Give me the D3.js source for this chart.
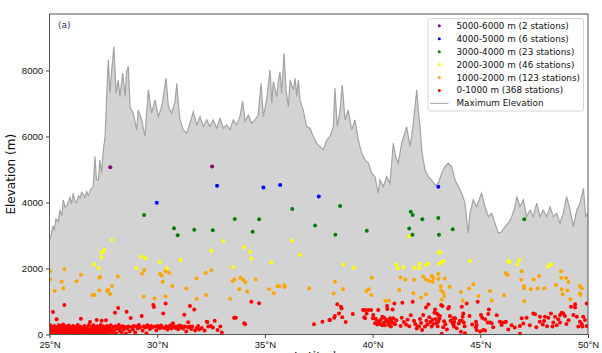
<!DOCTYPE html>
<html>
<head>
<meta charset="utf-8">
<script src="https://cdn.jsdelivr.net/npm/d3@7"></script>
<style>
  body { margin: 0; background: #fff; }
  svg { font-family: "DejaVu Sans", sans-serif; }
</style>
</head>
<body>
<div id="chart"></div>
<script>
// maximum elevation profile along latitude: [lat, elevation m]
const profile = [
  [25.00,2860],[25.07,3000],[25.16,3300],[25.22,3150],[25.30,3500],[25.40,3420],[25.49,3750],[25.57,3600],[25.64,4080],[25.72,3850],[25.80,3900],[25.88,4020],[25.95,4150],
  [26.02,3950],[26.10,4280],[26.18,4050],[26.26,3990],[26.34,4200],[26.42,4140],[26.49,4300],[26.56,4250],[26.64,4150],[26.73,4330],[26.80,4200],[26.88,4330],[26.95,4420],[27.03,4480],[27.11,5390],
  [27.18,4700],[27.27,4680],[27.34,5290],[27.42,4890],[27.50,5590],[27.58,5990],[27.66,7310],[27.73,8320],
  [27.81,7310],[27.89,8020],[27.99,8720],[28.09,7310],[28.19,7710],[28.27,7210],[28.40,7920],[28.51,7210],
  [28.58,7960],[28.66,8120],[28.74,6900],[28.89,6700],[29.05,6200],[29.12,6800],[29.28,6500],[29.43,6000],
  [29.59,7410],[29.74,6700],[29.90,7110],[30.05,6600],[30.21,6900],[30.41,7760],[30.52,6900],[30.67,6700],
  [30.83,7060],[30.91,7610],[30.98,7010],[31.06,6500],[31.21,6200],[31.37,6100],[31.52,6400],[31.68,6750],
  [31.83,6350],[31.99,6600],[32.14,6300],[32.30,6500],[32.45,6300],[32.60,6500],[32.76,6250],[32.92,6550],
  [33.07,6250],[33.23,6350],[33.38,6200],[33.53,6500],[33.69,6350],[33.84,6600],[33.97,7060],[34.08,6450],
  [34.23,6650],[34.39,6400],[34.54,6500],[34.69,6650],[34.82,7610],[34.93,6600],[35.08,7110],[35.24,8020],
  [35.32,7010],[35.39,7660],[35.55,7210],[35.62,7660],[35.70,7960],[35.78,7310],[35.89,8520],[35.98,7410],
  [36.09,6900],[36.17,7710],[36.32,7410],[36.40,7760],[36.48,7210],[36.55,7710],[36.63,7110],[36.78,6800],
  [36.94,6300],[37.09,6250],[37.25,6000],[37.40,5800],[37.56,5690],[37.71,5590],[37.87,5890],[38.02,6000],
  [38.18,6300],[38.25,7460],[38.36,6300],[38.49,6800],[38.59,7560],[38.72,6500],[38.87,6800],[39.03,6200],
  [39.18,6500],[39.34,5890],[39.49,5490],[39.65,5290],[39.80,5190],[39.96,4890],[40.11,4780],[40.26,4280],
  [40.34,4680],[40.50,4480],[40.65,4780],[40.81,4580],[40.96,5790],[41.07,5390],[41.19,5190],[41.35,5790],
  [41.58,6300],[41.74,5690],[41.89,6400],[42.05,7410],[42.12,6800],[42.20,6300],[42.28,5590],[42.43,4990],
  [42.59,4780],[42.74,4680],[42.90,4530],[43.05,4580],[43.21,4890],[43.36,5090],[43.51,5190],[43.67,5090],
  [43.83,4680],[43.98,4480],[44.14,4280],[44.29,3980],[44.44,3070],[44.52,3670],[44.67,4080],[44.83,3870],
  [45.06,4280],[45.22,3870],[45.37,3570],[45.53,3670],[45.68,3370],[45.84,3070],[45.99,3110],[46.15,3270],
  [46.30,3370],[46.46,3570],[46.61,3870],[46.69,4180],[46.84,3870],[47.00,4080],[47.15,3570],[47.31,3770],
  [47.46,3570],[47.62,3980],[47.77,3570],[47.92,3770],[48.08,3570],[48.24,3870],[48.39,3570],[48.55,3670],
  [48.70,3370],[48.85,3670],[49.01,4180],[49.17,3770],[49.32,3270],[49.48,3770],[49.63,3980],[49.79,4430],
  [49.89,3570],[50.00,3670]
];

// stations: [lat, elevation m]
const st5000 = [[27.82,5070],[32.55,5090]];
const st4000 = [[29.98,3990],[32.78,4510],[34.93,4450],[35.71,4530],[37.50,4180],[43.05,4480]];
const st3000 = [
  [29.39,3620],[30.78,3220],[30.95,3010],[31.72,3170],[32.58,3160],[33.60,3500],[34.73,3490],[34.43,3110],
  [36.27,3800],[37.33,3300],[38.49,3890],[38.27,3020],[39.73,3140],[41.77,3720],[41.86,3620],[42.31,3490],
  [43.05,3530],[43.72,3190],[41.70,3210],[41.85,3020],[43.08,3020],[47.04,3490]
];
const st2000 = [
  [27.90,2860],[27.42,2480],[27.54,2550],[27.42,2330],[27.05,2130],[27.28,2010],[29.26,2360],[29.47,2310],
  [29.03,2010],[30.12,2200],[30.45,2010],[31.09,2260],[33.07,2830],[32.51,2540],[34.04,2640],[34.32,2500],
  [34.37,2300],[33.53,2040],[35.30,2180],[36.26,2850],[36.64,2410],[38.64,2120],[39.12,2020],[41.09,2120],
  [41.17,2010],[41.43,2040],[41.94,2020],[42.17,2140],[42.17,2010],[42.47,2100],[42.56,2140],[43.10,2140],
  [43.18,2190],[43.28,2220],[43.07,2500],[43.13,2470],[41.70,2980],[44.52,2230],[46.30,2230],[46.35,2190],
  [46.72,2130],[46.81,2260],[48.16,2060],[48.28,2130]
];
const st1000 = [
  [25.02,1920],[25.02,1670],[25.24,1320],[25.69,1980],[25.57,1600],[25.64,1400],[26.26,1610],[26.46,1810],
  [27.00,1200],[27.08,1200],[27.31,1720],[27.36,1740],[27.31,1330],[27.67,1320],[27.72,1350],[27.81,1230],
  [27.90,1470],[28.17,1760],[29.37,1150],[29.29,1840],[29.40,1950],[29.87,1090],[30.13,1840],[30.21,1790],
  [30.25,1600],[30.39,1920],[30.55,1870],[30.39,1150],[30.70,1470],[31.35,1390],[31.83,1700],[31.83,1080],
  [32.25,1860],[32.51,1950],[32.27,1200],[33.50,1620],[33.58,1670],[33.86,1720],[33.98,1670],[34.09,1580],
  [34.57,1670],[33.81,1370],[34.18,1300],[33.39,1080],[35.20,1370],[35.41,1250],[35.58,1460],[35.67,1460],
  [35.90,1490],[35.93,1440],[37.06,1400],[38.25,1600],[38.19,1240],[38.63,1370],[39.96,1720],[39.71,1310],
  [39.82,1370],[39.94,1200],[40.59,1020],[40.76,1020],[41.30,1730],[41.52,1670],[41.24,1350],[41.92,1660],
  [41.89,1250],[42.25,1120],[42.35,1750],[42.48,1670],[42.63,1620],[42.74,1770],[42.82,1710],[42.79,1600],
  [43.05,1830],[43.05,1690],[43.16,1460],[43.35,1700],[43.18,1340],[43.28,1270],[43.33,1170],[42.48,1220],
  [43.21,1050],[43.58,1450],[44.10,1290],[44.18,1020],[44.48,1400],[44.68,1520],[44.91,1170],[45.45,1320],
  [45.53,1020],[46.11,1190],[46.18,1860],[46.27,1800],[46.92,1920],[46.90,1660],[47.03,1470],[47.04,1400],
  [47.04,1010],[47.34,1370],[47.48,1670],[47.66,1390],[47.73,1770],[47.97,1400],[48.51,1500],[48.75,1920],
  [48.76,1710],[48.98,1710],[48.78,1370],[48.82,1220],[49.09,1590],[49.04,1330],[49.18,1070],[49.61,1470],
  [49.71,1400],[49.63,1250],[49.66,1200]
];
const st0 = [
  [25.02,290],[25.03,60],[25.05,180],[25.07,20],[25.09,230],[25.11,110],[25.13,40],[25.16,680],[25.18,140],
  [25.20,10],[25.22,260],[25.24,80],[25.27,190],[25.29,30],[25.31,120],[25.33,460],[25.35,220],[25.37,50],
  [25.40,160],[25.42,20],[25.44,280],[25.46,90],[25.48,200],[25.50,40],[25.53,130],[25.55,250],[25.57,15],
  [25.59,170],[25.61,70],[25.64,300],[25.66,110],[25.69,890],[25.70,30],[25.72,210],[25.74,150],[25.76,60],
  [25.79,240],[25.81,20],[25.83,130],[25.85,190],[25.87,80],[25.90,270],[25.92,40],[25.94,150],[25.96,100],
  [25.98,10],[26.01,220],[26.03,60],[26.05,170],[26.08,30],[26.10,260],[26.12,120],[26.15,50],[26.17,190],
  [26.20,90],[26.22,15],[26.24,230],[26.26,140],[26.29,60],[26.31,290],[26.34,110],[26.36,30],[26.38,180],
  [26.41,70],[26.43,240],[26.46,480],[26.48,130],[26.50,20],[26.52,200],[26.55,90],[26.57,150],[26.60,40],
  [26.62,260],[26.65,110],[26.67,60],[26.70,180],[26.73,20],[26.75,230],[26.78,130],[26.80,80],[26.83,290],
  [26.86,30],[26.88,380],[26.90,160],[26.93,60],[26.96,210],[26.98,120],[27.01,30],[27.04,280],[27.06,150],
  [27.09,80],[27.11,200],[27.14,40],[27.17,120],[27.19,440],[27.21,250],[27.24,70],[27.27,170],[27.30,30],
  [27.33,220],[27.36,100],[27.38,290],[27.42,420],[27.44,150],[27.47,50],[27.50,240],[27.53,130],[27.56,20],
  [27.58,190],[27.62,430],[27.64,90],[27.67,260],[27.70,140],[27.73,40],[27.76,210],[27.80,100],[27.84,280],
  [27.88,160],[27.92,60],[27.96,230],[28.00,130],
  [28.04,660],[28.06,250],[28.10,40],[28.14,180],[28.19,800],[28.22,290],[28.26,110],[28.30,210],[28.35,70],
  [28.40,250],[28.45,150],[28.51,230],[28.55,30],[28.58,690],[28.62,180],[28.66,240],[28.72,90],[28.77,500],
  [28.82,230],[28.87,150],[28.92,260],[28.98,60],[29.05,240],[29.10,180],[29.15,290],[29.20,220],[29.28,560],
  [29.32,120],[29.38,250],[29.44,210],[29.50,40],[29.55,280],[29.60,230],[29.66,170],[29.72,260],[29.76,210],
  [29.82,890],[29.85,830],[29.90,240],[29.96,130],[30.02,260],[30.06,230],[30.12,190],[30.18,270],[30.22,230],
  [30.28,640],[30.32,200],[30.39,940],[30.42,250],[30.48,150],[30.55,220],[30.60,270],[30.66,180],[30.73,340],
  [30.78,250],[30.84,200],[30.91,240],[30.97,160],[31.03,270],[31.10,210],[31.14,250],[31.20,180],[31.26,600],
  [31.29,240],[31.35,90],
  [31.44,370],[31.44,220],[31.52,860],[31.52,240],[31.58,170],[31.63,240],[31.72,760],[31.76,120],[31.83,190],
  [31.90,260],[31.95,150],[32.07,200],[32.20,120],[32.30,390],[32.33,380],[32.37,240],[32.48,260],[32.58,210],
  [32.67,420],[32.80,140],[32.93,240],[33.00,60],[33.57,510],[33.61,510],[33.65,510],[34.04,340],[34.08,310],
  [34.37,990],[34.73,950],
  [37.28,310],[37.67,390],[37.99,440],[38.02,440],[38.22,510],[38.25,560],[38.36,920],[38.44,640],[38.53,840],
  [38.56,790],[38.59,520],[38.75,380],[39.08,620],[39.56,740],[39.61,520],[39.65,490],[39.65,740],[39.72,640],
  [39.80,740],[39.93,740],[40.01,490],[40.03,590],[40.11,340],[40.14,480],[40.20,420],[40.22,300],[40.26,740],
  [40.30,380],[40.34,310],[40.38,450],[40.45,280],[40.45,540],[40.50,350],[40.54,510],[40.57,280],[40.62,400],
  [40.65,440],[40.67,860],[40.68,770],[40.70,390],[40.76,290],[40.78,330],[40.81,490],[40.85,440],[40.85,240],
  [40.89,380],[40.93,760],[40.96,490],[41.00,330],[41.01,940],[41.04,310],[41.10,430],
  [41.30,260],[41.35,510],[41.38,960],[41.45,380],[41.55,300],[41.62,450],[41.70,250],[41.77,580],[41.86,990],
  [41.92,420],[41.98,320],[42.05,180],[42.09,240],[42.15,240],[42.20,470],[42.25,350],[42.30,140],[42.35,590],
  [42.43,240],[42.48,820],[42.50,420],[42.55,300],[42.59,910],[42.63,520],[42.68,380],[42.74,240],[42.78,450],
  [42.82,320],[42.87,660],[42.90,760],[42.93,470],[42.96,350],[42.98,640],[43.02,250],[43.05,590],[43.05,390],
  [43.10,480],[43.13,560],[43.18,890],[43.21,20],[43.24,860],[43.28,220],[43.32,400],[43.38,310],[43.45,150],
  [43.51,790],[43.55,830],[43.59,560],[43.62,420],[43.72,340],[43.75,490],[43.75,310],[43.78,240],[43.79,390],
  [43.83,490],[43.90,190],[44.00,330],[44.05,420],[44.10,80],[44.14,840],[44.14,420],[44.18,540],[44.21,640],
  [44.23,360],[44.27,250],[44.29,40],
  [44.37,940],[44.50,560],[44.62,300],[44.80,390],[44.83,290],[44.79,220],[44.83,140],[44.88,990],[44.99,90],
  [45.03,590],[45.09,510],[45.14,140],[45.22,460],[45.22,120],[45.34,360],[45.37,620],[45.40,760],[45.45,360],
  [45.53,340],[45.60,220],[45.76,580],[45.91,390],[45.99,290],[46.02,360],[46.15,370],[46.19,390],[46.30,150],
  [46.45,280],[46.60,210],[46.84,260],[46.84,20],[46.92,490],[47.00,330],[47.15,510],[47.30,280],[47.46,640],
  [47.54,610],[47.60,220],[47.76,390],[47.77,540],[47.90,300],[47.96,410],[48.00,540],[48.10,250],[48.16,510],
  [48.28,640],[48.35,240],[48.39,360],[48.47,540],[48.55,280],[48.62,460],[48.70,590],[48.70,360],[48.78,660],
  [48.85,640],[48.93,560],[49.00,320],[49.10,430],[49.21,840],[49.32,590],[49.40,920],[49.40,820],[49.48,540],
  [49.55,240],[49.63,390],[49.71,320],[49.74,240],[49.78,540],[49.86,440],[49.94,940],[49.94,260]
];

const bands = [
  { label: "5000-6000 m (2 stations)", color: "#800080", data: st5000 },
  { label: "4000-5000 m (6 stations)", color: "#0000ff", data: st4000 },
  { label: "3000-4000 m (23 stations)", color: "#008000", data: st3000 },
  { label: "2000-3000 m (46 stations)", color: "#ffff00", data: st2000 },
  { label: "1000-2000 m (123 stations)", color: "#ffa500", data: st1000 },
  { label: "0-1000 m (368 stations)", color: "#ff0000", data: st0 }
];
const latTicks = [25, 30, 35, 40, 45, 50];
const elevTicks = [0, 2000, 4000, 6000, 8000];

const W = 602, H = 353;
const plot = { left: 49.5, right: 588, top: 14, bottom: 334.5 };

const svg = d3.select("#chart").append("svg").attr("width", W).attr("height", H);

const x = d3.scaleLinear().domain([25, 50]).range([plot.left, plot.right]);
const y = d3.scaleLinear().domain([0, 9710]).range([plot.bottom, plot.top]);

svg.append("clipPath").attr("id", "clip")
  .append("rect")
  .attr("x", plot.left).attr("y", plot.top)
  .attr("width", plot.right - plot.left).attr("height", plot.bottom - plot.top);

const g = svg.append("g").attr("clip-path", "url(#clip)");

// profile fill and line
g.append("path")
  .datum(profile)
  .attr("fill", "#d3d3d3")
  .attr("d", d3.area().x(d => x(d[0])).y0(y(0)).y1(d => y(d[1])));

g.append("path")
  .datum(profile)
  .attr("fill", "none")
  .attr("stroke", "#a3a3a3")
  .attr("stroke-width", 1.2)
  .attr("d", d3.line().x(d => x(d[0])).y(d => y(d[1])));

// stations, drawn from lowest band to highest
bands.slice().reverse().forEach(b => {
  g.append("g").selectAll("circle")
    .data(b.data)
    .enter()
    .append("circle")
    .attr("cx", d => x(d[0]))
    .attr("cy", d => y(d[1]))
    .attr("r", 2)
    .attr("fill", b.color);
});

// axes
const xAxis = svg.append("g")
  .attr("transform", `translate(0,${plot.bottom})`)
  .call(d3.axisBottom(x).tickValues(latTicks).tickFormat(d => d + "°N").tickSize(3.5).tickPadding(3));
const yAxis = svg.append("g")
  .attr("transform", `translate(${plot.left},0)`)
  .call(d3.axisLeft(y).tickValues(elevTicks).tickFormat(d3.format("d")).tickSize(3.5).tickPadding(3));

[xAxis, yAxis].forEach(a => {
  a.select(".domain").remove();
  a.selectAll("line").attr("stroke", "#444");
  a.selectAll("text").attr("fill", "#111").style("font-size", "9.5px");
});

// frame
svg.append("rect")
  .attr("x", plot.left).attr("y", plot.top)
  .attr("width", plot.right - plot.left).attr("height", plot.bottom - plot.top)
  .attr("fill", "none")
  .attr("stroke", "#555")
  .attr("stroke-width", 1);

// axis labels
svg.append("text")
  .attr("transform", `translate(11,${(plot.top + plot.bottom) / 2}) rotate(-90)`)
  .attr("text-anchor", "middle")
  .attr("dominant-baseline", "central")
  .style("font-size", "12px")
  .attr("fill", "#111")
  .text("Elevation (m)");

// x label sits mostly below the picture edge, as in the source image
svg.append("text")
  .attr("x", (plot.left + plot.right) / 2)
  .attr("y", 361)
  .attr("text-anchor", "middle")
  .style("font-size", "12px")
  .attr("fill", "#111")
  .text("Latitude");

// panel tag
svg.append("text")
  .attr("x", 58)
  .attr("y", 27.5)
  .style("font-size", "9px")
  .attr("fill", "#1f3864")
  .text("(a)");

// legend
const legend = svg.append("g").attr("class", "legend");
legend.append("rect")
  .attr("x", 428).attr("y", 18.5)
  .attr("width", 155.5).attr("height", 92.5)
  .attr("rx", 2.5)
  .attr("fill", "#fff").attr("fill-opacity", 0.85)
  .attr("stroke", "#cccccc").attr("stroke-width", 0.8);

const rowY = i => 25.8 + i * 12.93;
bands.forEach((b, i) => {
  legend.append("circle")
    .attr("cx", 439.3).attr("cy", rowY(i))
    .attr("r", 1.5)
    .attr("fill", b.color);
  legend.append("text")
    .attr("x", 456.5).attr("y", rowY(i))
    .attr("dominant-baseline", "central")
    .style("font-size", "8.8px")
    .attr("fill", "#111")
    .text(b.label);
});
legend.append("line")
  .attr("x1", 430).attr("x2", 448.5)
  .attr("y1", rowY(6)).attr("y2", rowY(6))
  .attr("stroke", "#a3a3a3").attr("stroke-width", 1);
legend.append("text")
  .attr("x", 456.5).attr("y", rowY(6))
  .attr("dominant-baseline", "central")
  .style("font-size", "8.8px")
  .attr("fill", "#111")
  .text("Maximum Elevation");
</script>
</body>
</html>
